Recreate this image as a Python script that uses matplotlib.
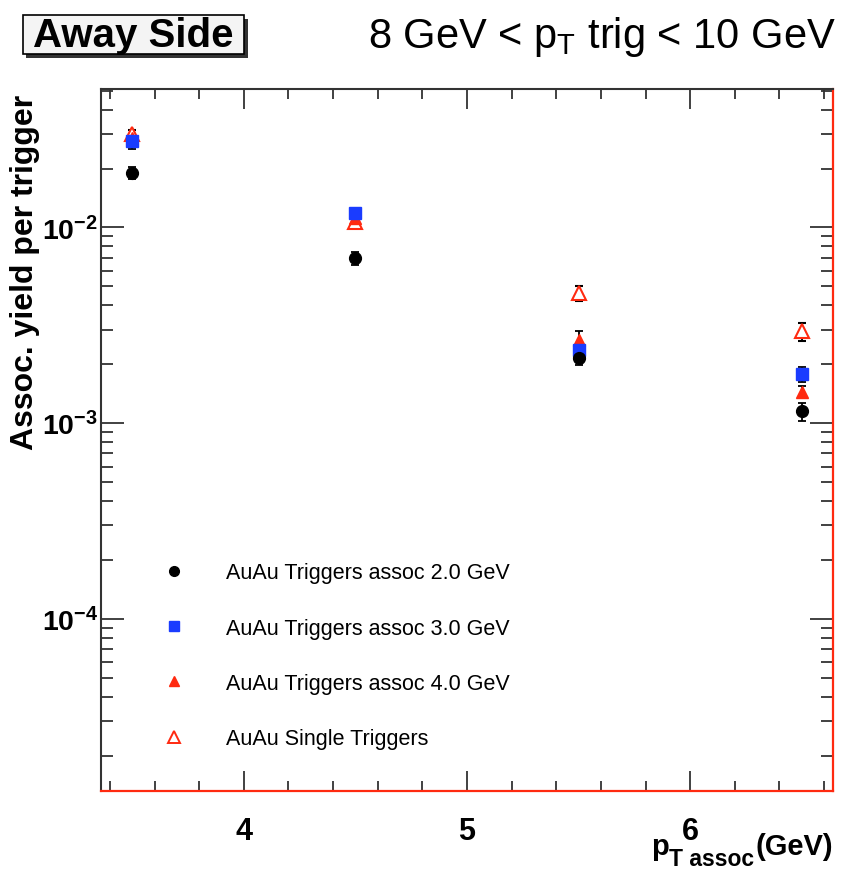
#!/usr/bin/env python3
import matplotlib

matplotlib.use("Agg")
import matplotlib.pyplot as plt
from matplotlib.lines import Line2D
from matplotlib.patches import FancyBboxPatch
from matplotlib.ticker import FixedLocator, LogLocator, NullFormatter

plt.rcParams["font.family"] = ["Liberation Sans", "DejaVu Sans"]
plt.rcParams["mathtext.fontset"] = "custom"
plt.rcParams["mathtext.rm"] = "Liberation Sans"
plt.rcParams["mathtext.bf"] = "Liberation Sans:bold"
plt.rcParams["mathtext.it"] = "Liberation Sans:italic"

# data
pt_assoc = [3.5, 4.5, 5.5, 6.5]

y_assoc2 = [0.0190, 0.00695, 0.00214, 0.00115]
e_assoc2 = [0.0014, 0.0005, 0.00015, 0.00012]

y_assoc3 = [0.0276, 0.0118, 0.00236, 0.00178]
e_assoc3 = [0.0024, 0.0005, 0.00020, 0.00016]

y_assoc4 = [0.0285, 0.0112, 0.00265, 0.00145]
e_assoc4 = [0.0016, 0.0008, 0.00030, 0.00010]

y_single = [0.0300, 0.0107, 0.00460, 0.00294]
e_single = [0.0015, 0.0005, 0.00040, 0.00030]

labels = [
    "AuAu Triggers assoc 2.0 GeV",
    "AuAu Triggers assoc 3.0 GeV",
    "AuAu Triggers assoc 4.0 GeV",
    "AuAu Single Triggers",
]

RED = "#ff2a10"
BLUE = "#1a3cff"

fig = plt.figure(figsize=(8.46, 8.70), dpi=100)
ax = fig.add_axes([0.1194, 0.0897, 0.8652, 0.8069])

err_kw = dict(ls="none", elinewidth=1.3, capsize=3, capthick=1.3, ecolor="black")
ax.errorbar(pt_assoc, y_single, yerr=e_single, marker="^", ms=10,
            color=RED, mfc="white", mec=RED, mew=1.5, **err_kw)
ax.errorbar(pt_assoc, y_assoc4, yerr=e_assoc4, marker="^", ms=9,
            color=RED, mec=RED, **err_kw)
ax.errorbar(pt_assoc, y_assoc3, yerr=e_assoc3, marker="s", ms=8.5,
            color=BLUE, mec=BLUE, **err_kw)
ax.errorbar(pt_assoc, y_assoc2, yerr=e_assoc2, marker="o", ms=8.5,
            color="black", mec="black", **err_kw)

ax.set_yscale("log")
ax.set_xlim(3.36, 6.64)
ax.set_ylim(1.32e-5, 5.1e-2)

ax.xaxis.set_major_locator(FixedLocator([4, 5, 6]))
ax.xaxis.set_minor_locator(FixedLocator([3.4, 3.6, 3.8, 4.2, 4.4, 4.6, 4.8,
                                         5.2, 5.4, 5.6, 5.8, 6.2, 6.4, 6.6]))
ax.yaxis.set_major_locator(FixedLocator([1e-4, 1e-3, 1e-2]))
ax.yaxis.set_minor_locator(LogLocator(base=10, subs=range(2, 10)))
ax.yaxis.set_minor_formatter(NullFormatter())
ax.set_yticklabels([r"$\mathbf{10^{-4}}$", r"$\mathbf{10^{-3}}$", r"$\mathbf{10^{-2}}$"])

ax.tick_params(axis="both", which="both", direction="in", top=True, right=True,
               color="#333333", width=1.3)
ax.tick_params(axis="y", which="major", length=16.5, labelsize=20.5, pad=2)
ax.tick_params(axis="y", which="minor", length=8.6)
ax.tick_params(axis="x", which="major", length=14.4, labelsize=22, pad=18)
ax.tick_params(axis="x", which="minor", length=7.2)
for lab in ax.get_xticklabels():
    lab.set_fontweight("bold")

for side in ("left", "top"):
    ax.spines[side].set_color("#333333")
    ax.spines[side].set_linewidth(1.5)
for side in ("right", "bottom"):
    ax.spines[side].set_color(RED)
    ax.spines[side].set_linewidth(1.6)

ax.set_ylabel("Assoc. yield per trigger", fontsize=23, fontweight="bold")
ax.yaxis.set_label_coords(-0.083, 0.993)
ax.yaxis.label.set_horizontalalignment("right")

# x title built from pieces so the subscript sits low, as in the original
renderer = fig.canvas.get_renderer()
inv = fig.transFigure.inverted()
t_gev = fig.text(0.985, 0.0175, "(GeV)", ha="right", va="baseline",
                 fontsize=21, fontweight="bold")
x0 = inv.transform(t_gev.get_window_extent(renderer))[0][0]
t_sub = fig.text(x0 - 0.002, 0.0048, "T assoc", ha="right", va="baseline",
                 fontsize=16.5, fontweight="bold")
x1 = inv.transform(t_sub.get_window_extent(renderer))[0][0]
fig.text(x1, 0.0175, "p", ha="right", va="baseline", fontsize=21, fontweight="bold")

handles = [
    Line2D([], [], ls="none", marker="o", ms=7, color="black"),
    Line2D([], [], ls="none", marker="s", ms=7, color=BLUE),
    Line2D([], [], ls="none", marker="^", ms=7, color=RED),
    Line2D([], [], ls="none", marker="^", ms=8, color=RED, mfc="white", mew=1.4),
]
ax.legend(handles, labels, loc="lower left", bbox_to_anchor=(0.056, 0.032),
          frameon=False, fontsize=15.5, labelspacing=1.59, handletextpad=1.8,
          handlelength=1.2)

# header boxes
shadow = FancyBboxPatch((0.031, 0.932), 0.262, 0.045, boxstyle="square,pad=0",
                        transform=fig.transFigure, facecolor="#333333",
                        edgecolor="none")
box = FancyBboxPatch((0.027, 0.937), 0.262, 0.045, boxstyle="square,pad=0",
                     transform=fig.transFigure, facecolor="#f4f4f4",
                     edgecolor="black", linewidth=1.2)
fig.patches.extend([shadow, box])
fig.text(0.158, 0.959, "Away Side", ha="center", va="center", fontsize=29,
         fontweight="bold")
fig.text(0.988, 0.958, r"8 GeV < p$_{\mathregular{T}}$ trig < 10 GeV", ha="right",
         va="center", fontsize=30)

fig.savefig("out.png", dpi=100)
